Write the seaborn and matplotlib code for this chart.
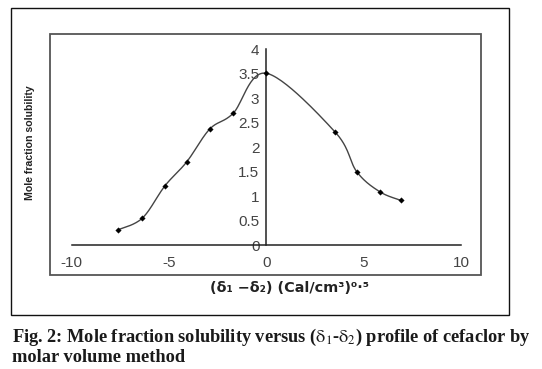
import numpy as np
import pandas as pd
import seaborn as sns
import matplotlib.pyplot as plt
from matplotlib.patches import Rectangle

# values
delta_diff = [-7.62, -6.37, -5.21, -4.09, -2.91, -1.71, 0.0, 3.53, 4.64, 5.82, 6.93]
solubility = [0.31, 0.55, 1.21, 1.70, 2.37, 2.69, 3.51, 2.31, 1.50, 1.09, 0.91]
x_ticks = [-10, -5, 0, 5, 10]
y_ticks = [0, 0.5, 1, 1.5, 2, 2.5, 3, 3.5, 4]
y_tick_labels = ['0', '0.5', '1', '1.5', '2', '2.5', '3', '3.5', '4']

sns.set_style('white')
plt.rcParams['font.family'] = ['Liberation Sans', 'DejaVu Sans']
plt.rcParams['mathtext.fontset'] = 'stix'
plt.rcParams['axes.unicode_minus'] = False

df = pd.DataFrame({'x': delta_diff, 'y': solubility})


# smoothed line like excel (catmull-rom through the points)
def smooth(xs, ys, n=30):
    p = np.column_stack([xs, ys])
    p = np.vstack([p[0], p, p[-1]])
    out = []
    for i in range(1, len(p) - 2):
        p0, p1, p2, p3 = p[i - 1], p[i], p[i + 1], p[i + 2]
        t = np.linspace(0, 1, n)[:, None]
        seg = 0.5 * ((2 * p1) + (-p0 + p2) * t + (2 * p0 - 5 * p1 + 4 * p2 - p3) * t ** 2
                     + (-p0 + 3 * p1 - 3 * p2 + p3) * t ** 3)
        out.append(seg)
    out = np.vstack(out)
    return out[:, 0], out[:, 1]


sx, sy = smooth(df['x'].values, df['y'].values)
curve = pd.DataFrame({'x': sx, 'y': sy})

fig = plt.figure(figsize=(5.42, 3.69), dpi=100)
ax = fig.add_axes([0.1323, 0.3360, 0.7183, 0.5304])

sns.lineplot(data=curve, x='x', y='y', sort=False, color='#444444', lw=1.0, ax=ax)
sns.scatterplot(data=df, x='x', y='y', marker='D', s=8, color='black', edgecolor='black', ax=ax, zorder=3)

ax.set_xlim(-10, 10)
ax.set_ylim(0, 4)
ax.set_xticks(x_ticks)
ax.set_yticks(y_ticks)
ax.set_yticklabels(y_tick_labels)
ax.set_xlabel('')
ax.set_ylabel('')
ax.spines['left'].set_position(('data', 0))
ax.spines['top'].set_visible(False)
ax.spines['right'].set_visible(False)
for s in ['left', 'bottom']:
    ax.spines[s].set_color('#222222')
    ax.spines[s].set_linewidth(1.1)
ax.tick_params(axis='y', direction='out', length=4, width=1, color='#222222',
               labelsize=11, labelcolor='#444444', pad=1)
ax.tick_params(axis='x', direction='in', length=3, width=1, color='#222222',
               labelsize=11, labelcolor='#444444', pad=8)
ax.patch.set_alpha(0)

# boxes around the chart
fig.patches.append(Rectangle((0.0923, 0.2547), 0.7952, 0.6531, transform=fig.transFigure,
                             fill=False, edgecolor='#555555', lw=1.3))
fig.patches.append(Rectangle((0.0203, 0.1463), 0.9188, 0.832, transform=fig.transFigure,
                             fill=False, edgecolor='#111111', lw=1.0))

fig.text(0.0554, 0.6125, 'Mole fraction solubility', rotation=90, ha='center', va='center',
         fontsize=7.6, fontweight='bold', color='#222222')
fig.text(0.535, 0.2195, '(δ₁ −δ₂) (Cal/cm³)⁰·⁵', family=['DejaVu Sans'],
         ha='center', va='center', fontsize=10.4, fontweight='bold', color='#222222')

fig.text(0.022, 1 - 342 / 369,
         r'Fig. 2: Mole fraction solubility versus ($\mathrm{\delta_1}$-$\mathrm{\delta_2}$) profile of cefaclor by',
         ha='left', va='baseline', fontsize=13.2, family=['Liberation Serif'], color='#1a1a1a',
         fontweight='bold')
fig.text(0.022, 1 - 362 / 369, 'molar volume method',
         ha='left', va='baseline', fontsize=13.2, family=['Liberation Serif'], color='#1a1a1a',
         fontweight='bold')

fig.savefig('out.png', dpi=100)
